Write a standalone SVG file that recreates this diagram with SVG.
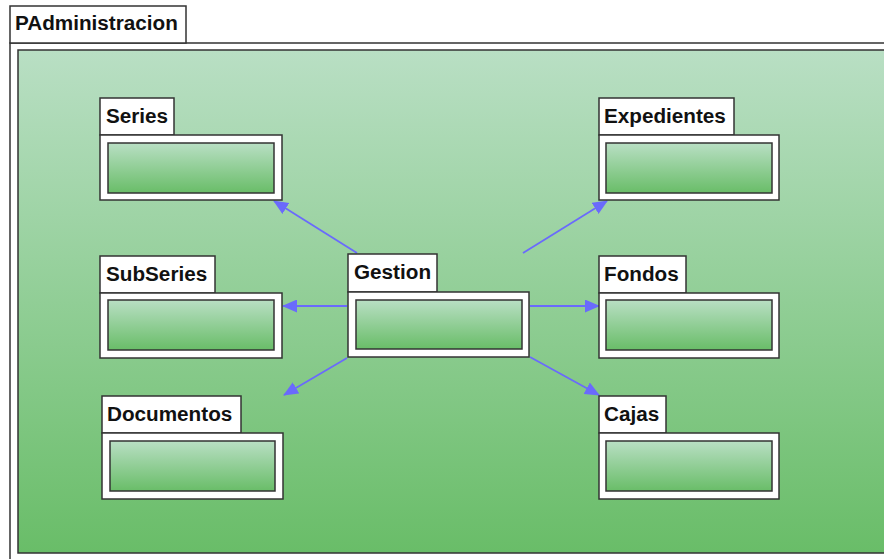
<svg xmlns="http://www.w3.org/2000/svg" width="884" height="559" viewBox="0 0 884 559">
<style>
.frame{fill:#fff;stroke:#333;stroke-width:1.5}
.tab{fill:#fff;stroke:#333;stroke-width:1.5}
.body{fill:#fff;stroke:#333;stroke-width:1.5}
.inner{fill:url(#gIn);stroke:#333;stroke-width:1.5}
.lbl{font-family:"Liberation Sans",Arial,sans-serif;font-weight:bold;font-size:20.7px;fill:#111}
.conn{stroke:#6a6afc;stroke-width:1.8;fill:none;marker-end:url(#arr)}
</style>
<defs>
<linearGradient id="gBg" x1="0" y1="50" x2="0" y2="553" gradientUnits="userSpaceOnUse">
<stop offset="0" stop-color="#b9dfc4"/>
<stop offset="1" stop-color="#69bd68"/>
</linearGradient>
<linearGradient id="gIn" x1="0" y1="0" x2="0" y2="1">
<stop offset="0" stop-color="#b9dfc4"/>
<stop offset="1" stop-color="#69bd68"/>
</linearGradient>
<marker id="arr" markerWidth="15" markerHeight="13" refX="14" refY="6.5" orient="auto" markerUnits="userSpaceOnUse">
<path d="M0,0 L15,6.5 L0,13 z" fill="#6a6afc"/>
</marker>
</defs>
<g id="PAdministracion">
<rect class="frame" x="10" y="43" width="890" height="530"/>
<rect class="tab" x="10" y="6" width="176" height="37"/>
<text class="lbl" x="15" y="30">PAdministracion</text>
<rect x="18" y="50" width="880" height="503" fill="url(#gBg)" stroke="#333" stroke-width="1.5"/>
</g>
<g id="connectors">
<line class="conn" x1="357" y1="253" x2="274" y2="201"/>
<line class="conn" x1="523" y1="253" x2="607" y2="201"/>
<line class="conn" x1="347" y1="306" x2="283" y2="306"/>
<line class="conn" x1="530" y1="306" x2="599" y2="306"/>
<line class="conn" x1="347" y1="358" x2="284" y2="395"/>
<line class="conn" x1="530" y1="357" x2="599" y2="395"/>
</g>
<g id="Series">
<rect class="tab" x="100" y="98" width="74" height="37"/>
<rect class="body" x="100" y="135" width="182" height="65"/>
<rect class="inner" x="108" y="143" width="166" height="50"/>
<text class="lbl" x="106" y="123">Series</text>
</g>
<g id="Expedientes">
<rect class="tab" x="599" y="98" width="135" height="37"/>
<rect class="body" x="599" y="135" width="180" height="65"/>
<rect class="inner" x="606" y="143" width="166" height="50"/>
<text class="lbl" x="604" y="123">Expedientes</text>
</g>
<g id="SubSeries">
<rect class="tab" x="100" y="256" width="115" height="37"/>
<rect class="body" x="100" y="293" width="182" height="65"/>
<rect class="inner" x="108" y="300" width="166" height="50"/>
<text class="lbl" x="106" y="281">SubSeries</text>
</g>
<g id="Gestion">
<rect class="tab" x="348" y="254" width="89" height="38"/>
<rect class="body" x="348" y="292" width="181" height="65"/>
<rect class="inner" x="356" y="300" width="166" height="49"/>
<text class="lbl" x="354" y="279">Gestion</text>
</g>
<g id="Fondos">
<rect class="tab" x="599" y="256" width="87" height="37"/>
<rect class="body" x="599" y="293" width="180" height="65"/>
<rect class="inner" x="606" y="300" width="166" height="50"/>
<text class="lbl" x="604" y="281">Fondos</text>
</g>
<g id="Documentos">
<rect class="tab" x="102" y="396" width="139" height="37"/>
<rect class="body" x="102" y="433" width="181" height="66"/>
<rect class="inner" x="110" y="441" width="165" height="50"/>
<text class="lbl" x="107" y="421">Documentos</text>
</g>
<g id="Cajas">
<rect class="tab" x="599" y="396" width="67" height="37"/>
<rect class="body" x="599" y="433" width="180" height="66"/>
<rect class="inner" x="606" y="441" width="166" height="50"/>
<text class="lbl" x="604" y="421">Cajas</text>
</g>
</svg>
